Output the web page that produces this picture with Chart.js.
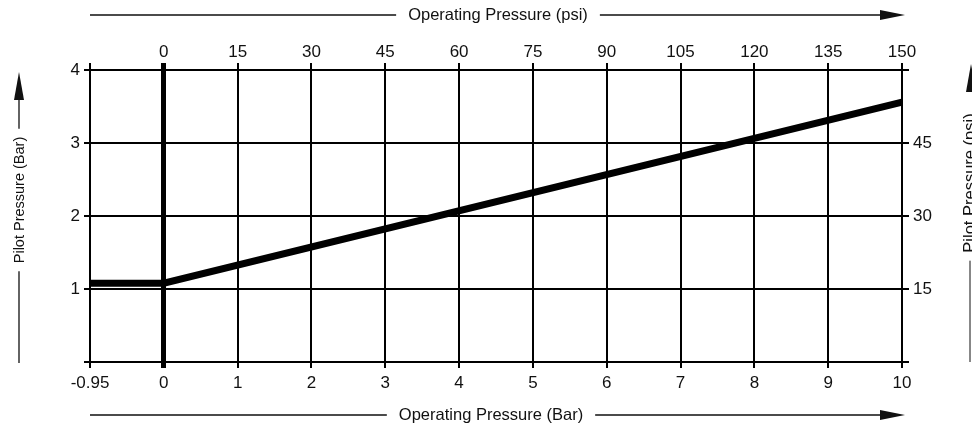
<!DOCTYPE html>
<html>
<head>
<meta charset="utf-8">
<script src="https://cdn.jsdelivr.net/npm/chart.js@4.4.1/dist/chart.umd.min.js"></script>
<style>
html,body{margin:0;padding:0;background:#fff;}
#c{display:block;}
</style>
</head>
<body>
<canvas id="c" width="972" height="427"></canvas>
<script>
// ---- data ----
const barTickLabels = [-0.95, 0, 1, 2, 3, 4, 5, 6, 7, 8, 9, 10];
const psiTickLabels = [0, 15, 30, 45, 60, 75, 90, 105, 120, 135, 150];
const pilotBarTicks = [0, 1, 2, 3, 4];
const pilotPsiTicks = [0, 15, 30, 45, 60];
const operatingPressureBar = [-0.95, 0, 10];
const pilotPressureBar = [1.08, 1.08, 3.56];

const titleTop = 'Operating Pressure (psi)';
const titleBottom = 'Operating Pressure (Bar)';
const titleLeft = 'Pilot Pressure (Bar)';
const titleRight = 'Pilot Pressure (psi)';

// the vacuum segment (-0.95..0) is drawn as one full division on the original (broken axis)
const axisPos = v => (v < 0 ? v / 0.95 : v);

const FONT = '"Liberation Sans", Arial, Helvetica, sans-serif';
Chart.defaults.font.family = FONT;
Chart.defaults.font.size = 17;
Chart.defaults.color = '#111';

const points = operatingPressureBar.map((v, i) => ({ x: axisPos(v), y: pilotPressureBar[i] }));

function arrowHead(ctx, tipX, tipY, dir, len, half) {
  ctx.beginPath();
  if (dir === 'right') {
    ctx.moveTo(tipX, tipY);
    ctx.lineTo(tipX - len, tipY - half);
    ctx.lineTo(tipX - len, tipY + half);
  } else {
    ctx.moveTo(tipX, tipY);
    ctx.lineTo(tipX - half, tipY + len);
    ctx.lineTo(tipX + half, tipY + len);
  }
  ctx.closePath();
  ctx.fill();
}

const decorations = {
  id: 'decorations',
  afterDraw(chart) {
    const { ctx, chartArea: a } = chart;
    ctx.save();
    ctx.strokeStyle = '#111';
    ctx.fillStyle = '#111';
    ctx.lineWidth = 1.3;
    ctx.font = '16.5px ' + FONT;
    ctx.textAlign = 'center';
    ctx.textBaseline = 'middle';

    // top title with arrow
    const tipX = a.right + 3;
    let y = 15, cx = 498;
    let w = ctx.measureText(titleTop).width;
    ctx.fillText(titleTop, cx, y);
    ctx.beginPath();
    ctx.moveTo(a.left, y); ctx.lineTo(cx - w / 2 - 12, y);
    ctx.moveTo(cx + w / 2 + 12, y); ctx.lineTo(tipX - 20, y);
    ctx.stroke();
    arrowHead(ctx, tipX, y, 'right', 25, 5);

    // bottom title with arrow
    y = 415; cx = 491;
    w = ctx.measureText(titleBottom).width;
    ctx.fillText(titleBottom, cx, y);
    ctx.beginPath();
    ctx.moveTo(a.left, y); ctx.lineTo(cx - w / 2 - 12, y);
    ctx.moveTo(cx + w / 2 + 12, y); ctx.lineTo(tipX - 20, y);
    ctx.stroke();
    arrowHead(ctx, tipX, y, 'right', 25, 5);

    // left title, rotated, arrow up
    let x = 19, cy = 200;
    ctx.font = '14.5px ' + FONT;
    w = ctx.measureText(titleLeft).width;
    ctx.save();
    ctx.translate(x + 1, cy);
    ctx.rotate(-Math.PI / 2);
    ctx.fillText(titleLeft, 0, 0);
    ctx.restore();
    ctx.beginPath();
    ctx.moveTo(x, a.bottom + 1); ctx.lineTo(x, cy + w / 2 + 8);
    ctx.moveTo(x, cy - w / 2 - 8); ctx.lineTo(x, a.top + 25);
    ctx.stroke();
    arrowHead(ctx, x, a.top + 2, 'up', 28, 5);

    // right title (runs off the page edge in the original)
    x = 970; cy = 183;
    ctx.font = '16.5px ' + FONT;
    w = ctx.measureText(titleRight).width;
    ctx.save();
    ctx.translate(975, cy);
    ctx.rotate(-Math.PI / 2);
    ctx.textBaseline = 'alphabetic';
    ctx.fillText(titleRight, 0, 0);
    ctx.restore();
    ctx.lineWidth = 1;
    ctx.beginPath();
    ctx.moveTo(x, a.bottom); ctx.lineTo(x, cy + w / 2 + 8);
    ctx.stroke();
    arrowHead(ctx, x + 1, a.top - 6, 'up', 28, 5);
    ctx.restore();
  }
};

new Chart(document.getElementById('c'), {
  type: 'line',
  data: {
    datasets: [{
      data: points,
      borderColor: '#000',
      backgroundColor: '#000',
      borderWidth: 7,
      pointRadius: 0,
      tension: 0,
      borderCapStyle: 'butt',
      borderJoinStyle: 'miter',
      fill: false
    }]
  },
  options: {
    responsive: false,
    animation: false,
    devicePixelRatio: 1,
    layout: { padding: 0 },
    plugins: { legend: { display: false }, tooltip: { enabled: false } },
    scales: {
      x: {
        type: 'linear',
        position: 'bottom',
        min: axisPos(barTickLabels[0]),
        max: barTickLabels[barTickLabels.length - 1],
        afterBuildTicks: s => { s.ticks = barTickLabels.map(v => ({ value: axisPos(v) })); },
        afterFit: s => { s.height = 65; },
        border: { display: false },
        grid: {
          color: '#000',
          lineWidth: c => (c.tick && c.tick.value === 0 ? 5 : 2),
          tickLength: 6,
          drawTicks: true
        },
        ticks: {
          padding: 5,
          maxRotation: 0,
          autoSkip: false,
          callback: (v, i) => String(barTickLabels[i])
        }
      },
      x2: {
        type: 'linear',
        position: 'top',
        min: psiTickLabels[1] * axisPos(barTickLabels[0]),
        max: psiTickLabels[psiTickLabels.length - 1],
        afterBuildTicks: s => {
          s.ticks = [{ value: s.min }].concat(psiTickLabels.map(v => ({ value: v })));
        },
        afterFit: s => { s.height = 70; },
        border: { display: false },
        grid: {
          color: '#000',
          drawOnChartArea: false,
          lineWidth: c => (c.tick && c.tick.value === 0 ? 5 : 2),
          tickLength: 7
        },
        ticks: {
          padding: 0,
          maxRotation: 0,
          autoSkip: false,
          callback: v => (v < 0 ? '' : String(v))
        }
      },
      y: {
        type: 'linear',
        position: 'left',
        min: pilotBarTicks[0],
        max: pilotBarTicks[pilotBarTicks.length - 1],
        afterBuildTicks: s => { s.ticks = pilotBarTicks.map(v => ({ value: v })); },
        afterFit: s => { s.width = 90; },
        border: { display: false },
        grid: { color: '#000', lineWidth: 2, tickLength: 6 },
        ticks: {
          padding: 4,
          callback: v => (v === 0 ? '' : String(v))
        }
      },
      y2: {
        type: 'linear',
        position: 'right',
        min: pilotPsiTicks[0],
        max: pilotPsiTicks[pilotPsiTicks.length - 1],
        afterBuildTicks: s => { s.ticks = pilotPsiTicks.map(v => ({ value: v })); },
        afterFit: s => { s.width = 70; },
        border: { display: false },
        grid: { color: '#000', lineWidth: 2, tickLength: 7, drawOnChartArea: false },
        ticks: {
          padding: 4,
          callback: v => (v === pilotPsiTicks[0] || v === pilotPsiTicks[pilotPsiTicks.length - 1] ? '' : String(v))
        }
      }
    }
  },
  plugins: [decorations]
});
</script>
</body>
</html>
